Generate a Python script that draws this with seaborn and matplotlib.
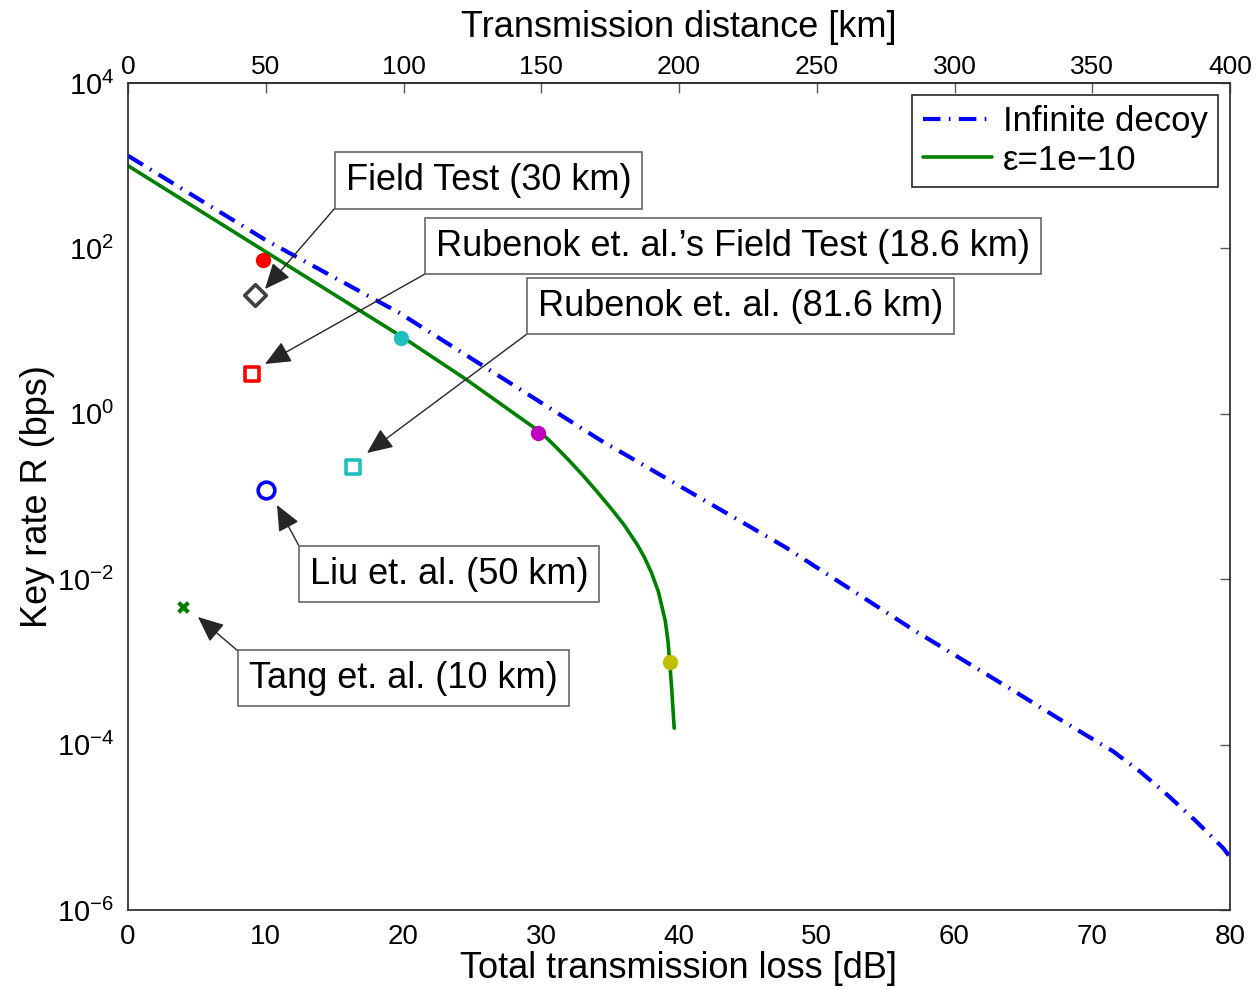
import matplotlib
matplotlib.use("Agg")
import matplotlib.pyplot as plt
import seaborn as sns
from matplotlib.ticker import NullLocator, FixedLocator

# --- data ---
# infinite-decoy bound (dash-dot blue)
loss_decoy = [0, 10, 19.7, 34.3, 47.7, 57.0, 64.2, 68.0, 71.5, 73.5, 75.4, 77.5, 79.5, 80.0]
rate_decoy = [1.32e3, 1.26e2, 1.66e1, 4.79e-1, 2.45e-2, 2.45e-3, 4.57e-4,
              1.86e-4, 8.32e-5, 4.68e-5, 2.51e-5, 1.20e-5, 5.62e-6, 4.37e-6]

# finite-size curve, eps = 1e-10 (solid green)
loss_eps = [0, 10, 20, 24.6, 30, 31, 32, 33, 34, 35, 36, 37, 37.5, 38, 38.5,
            39, 39.2, 39.35, 39.5, 39.65]
rate_eps = [1.0e3, 9.1e1, 8.3, 2.57, 5.9e-1, 4.07e-1, 2.75e-1, 1.82e-1, 1.17e-1,
            7.41e-2, 4.57e-2, 2.57e-2, 1.82e-2, 1.20e-2, 7.08e-3,
            3.16e-3, 1.78e-3, 8.9e-4, 3.98e-4, 1.58e-4]

# filled dots sitting on the green curve
dot_loss = [9.8, 19.8, 29.8, 39.35]
dot_rate = [72, 8.3, 0.59, 1.0e-3]
dot_colors = ["#ff0000", "#1fbfbf", "#bf00bf", "#bfbf00"]

# experimental results (open markers with callouts)
exp_labels = ["Field Test (30 km)",
              "Rubenok et. al.\u2019s Field Test (18.6 km)",
              "Rubenok et. al. (81.6 km)",
              "Liu et. al. (50 km)",
              "Tang et. al. (10 km)"]
exp_loss = [9.2, 9.0, 16.3, 10.0, 4.0]
exp_rate = [27, 3.0, 0.23, 0.12, 0.0046]

# legend labels
series_labels = ["Infinite decoy", "\u03b5=1e\u221210"]

# --- style / layout ---
W, H = 1256, 989
exp_markers = ["D", "s", "s", "o", "x"]
exp_colors = ["#404040", "#ff0000", "#1fbfbf", "#0000ff", "#008000"]
exp_sizes = [11, 9.5, 9.5, 12, 7]
# callout boxes: (left, top, right, bottom) in image pixels, arrow start corner, arrow tip
boxes = [(335, 153, 661, 208), (425, 218, 1065, 274), (527, 278, 967, 334),
         (299, 546, 611, 602), (238, 651, 587, 705)]
arrow_start = [(335, 208), (425, 274), (527, 334), (299, 546), (238, 651)]
arrow_tip = [(265, 289), (265, 364), (367, 453), (277, 505), (198, 617)]

sns.set_theme(style="white")
plt.rcParams["font.family"] = ["Liberation Sans", "DejaVu Sans"]
plt.rcParams["mathtext.fontset"] = "custom"
plt.rcParams["mathtext.rm"] = "Liberation Sans"
for key in ["text.color", "axes.labelcolor", "xtick.labelcolor", "ytick.labelcolor"]:
    plt.rcParams[key] = "black"

fig = plt.figure(figsize=(W / 100, H / 100), dpi=100)
ax = fig.add_axes([128 / W, 79 / H, 1102 / W, 827 / H])

sns.lineplot(x=loss_decoy, y=rate_decoy, ax=ax, color="#0000ff", linewidth=3,
             linestyle=(0, (4.2, 2, 0.4, 2)), label=series_labels[0], sort=False)
sns.lineplot(x=loss_eps, y=rate_eps, ax=ax, color="#008000", linewidth=2.6,
             label=series_labels[1], sort=False)

for lx, ly, c in zip(dot_loss, dot_rate, dot_colors):
    sns.scatterplot(x=[lx], y=[ly], ax=ax, color=c, s=11 ** 2, marker="o",
                    edgecolor=c, linewidth=0, zorder=4)

for lx, ly, m, c, ms in zip(exp_loss, exp_rate, exp_markers, exp_colors, exp_sizes):
    if m == "x":
        sns.scatterplot(x=[lx], y=[ly], ax=ax, color=c, s=ms ** 2, marker=m,
                        linewidth=3, zorder=4)
    else:
        sns.scatterplot(x=[lx], y=[ly], ax=ax, color="white", s=ms ** 2, marker=m,
                        edgecolor=c, linewidth=2.6, zorder=4)

ax.set_yscale("log")
ax.set_xlim(0, 80)
ax.set_ylim(1e-6, 1e4)
ax.set_xticks(range(0, 81, 10))
ax.yaxis.set_major_locator(FixedLocator([1e-6, 1e-4, 1e-2, 1, 1e2, 1e4]))
ax.yaxis.set_minor_locator(NullLocator())
ax.tick_params(axis="both", which="both", direction="in", length=7, width=1,
               color="0.35", labelsize=20)
ax.tick_params(axis="x", pad=10)
ax.tick_params(axis="y", right=True, pad=10, labelsize=21)
for sp in ax.spines.values():
    sp.set_color("0.2")
    sp.set_linewidth(1.3)

ax.set_xlabel("Total transmission loss [dB]", fontsize=26, labelpad=1)
ax.set_ylabel("Key rate R (bps)", fontsize=26, labelpad=1)

# top axis: distance at 0.2 dB/km
top = ax.secondary_xaxis("top", functions=(lambda d: d * 5, lambda k: k / 5))
top.set_xticks(range(0, 401, 50))
top.tick_params(direction="in", length=7, width=1, color="0.35", labelsize=19, pad=3)
top.set_xlabel("Transmission distance [km]", fontsize=26, labelpad=13)

leg = ax.legend(loc="upper right", bbox_to_anchor=((1218 - 128) / 1102, (910 - 95) / 827),
                fontsize=25, frameon=True, fancybox=False, framealpha=1,
                edgecolor="0.15", handlelength=2.0, handletextpad=0.3,
                labelspacing=0.15, borderpad=0.3, borderaxespad=0)
leg.get_frame().set_linewidth(1.2)

# callouts
for text, (l, t, r, b), st, tip in zip(exp_labels, boxes, arrow_start, arrow_tip):
    fig.text((l + 11) / W, 1 - (t + b) / 2 / H, text, fontsize=26, ha="left", va="center",
             bbox=dict(boxstyle="square,pad=0.3", facecolor="white", edgecolor="0.4",
                       linewidth=1.2), zorder=5)
    ax.annotate("", xy=(tip[0], H - tip[1]), xycoords="figure pixels",
                xytext=(st[0], H - st[1]), textcoords="figure pixels",
                arrowprops=dict(arrowstyle="-|>,head_length=0.8,head_width=0.35",
                                color="0.15", lw=1.0, shrinkA=0, shrinkB=0,
                                mutation_scale=20))

fig.savefig("out.png", dpi=100)
